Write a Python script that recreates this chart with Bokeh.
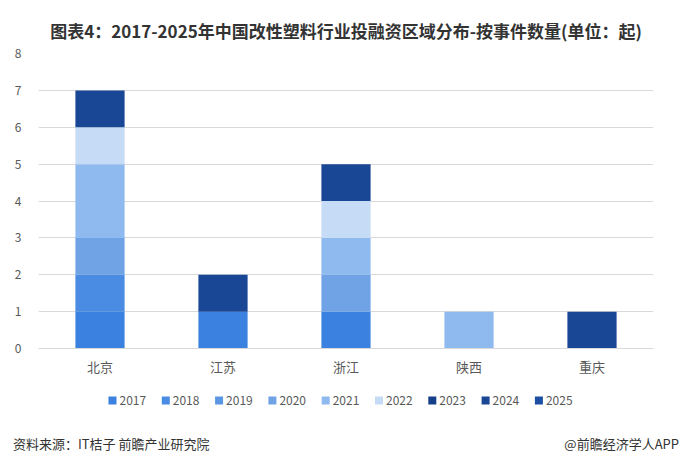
from bokeh.plotting import figure
from bokeh.models import FixedTicker, Range1d, Div, ColumnDataSource
from bokeh.core.properties import value
from bokeh.layouts import column
from bokeh.embed import file_html
from bokeh.resources import INLINE

regions = ["北京", "江苏", "浙江", "陕西", "重庆"]
years = ["2017", "2018", "2019", "2020", "2021", "2022", "2023", "2024", "2025"]
v2017 = [1, 1, 1, 0, 0]
v2018 = [1, 0, 0, 0, 0]
v2019 = [0, 0, 0, 0, 0]
v2020 = [1, 0, 1, 0, 0]
v2021 = [2, 0, 1, 1, 0]
v2022 = [1, 0, 1, 0, 0]
v2023 = [0, 0, 0, 0, 0]
v2024 = [1, 1, 1, 0, 1]
v2025 = [0, 0, 0, 0, 0]
colors = ["#3b82e0", "#4a8be3", "#5b96e6", "#6fa3e6", "#8ebaef", "#c6dbf5",
          "#163f8a", "#1a4795", "#1c4fa3"]
yticks = [0, 1, 2, 3, 4, 5, 6, 7, 8]
source_text = "资料来源：IT桔子 前瞻产业研究院"
brand_text = "@前瞻经济学人APP"

FONT = "Noto Sans CJK SC"

data = dict(region=regions)
for y, v in zip(years, [v2017, v2018, v2019, v2020, v2021, v2022, v2023, v2024, v2025]):
    data[y] = v

p = figure(x_range=regions, y_range=Range1d(0, 8),
           frame_width=615, frame_height=295,
           output_backend="svg", toolbar_location=None,
           min_border_left=38, min_border_right=31, min_border_top=53,
           min_border_bottom=32)

rs = p.vbar_stack(years, x="region", width=0.4, color=colors, source=data,
                  line_color=None)

p.title.text = "图表4：2017-2025年中国改性塑料行业投融资区域分布-按事件数量(单位：起)"
p.title.align = "center"
p.title.text_font = FONT
p.title.text_font_size = "17px"
p.title.text_font_style = "bold"
p.title.text_color = "#333333"
p.title.standoff = 22

p.yaxis.ticker = FixedTicker(ticks=yticks)
p.yaxis.axis_line_color = None
p.yaxis.major_tick_line_color = None
p.yaxis.minor_tick_line_color = None
p.yaxis.major_label_text_font = FONT
p.yaxis.major_label_text_font_size = "12px"
p.yaxis.major_label_text_color = "#595959"
p.yaxis.major_label_standoff = 11

p.xaxis.axis_line_color = "#d9d9d9"
p.xaxis.major_tick_line_color = None
p.xaxis.minor_tick_line_color = None
p.xaxis.major_label_text_font = FONT
p.xaxis.major_label_text_font_size = "13px"
p.xaxis.major_label_text_color = "#595959"
p.xaxis.major_label_standoff = 2

p.xgrid.grid_line_color = None
p.ygrid.grid_line_color = "#d9d9d9"
p.outline_line_color = None
p.x_range.range_padding = 0.0

# legend strip: one unit per legend entry (53.3 px)
p2 = figure(x_range=Range1d(-1.388, 10.15), y_range=Range1d(0, 40),
            frame_width=615, frame_height=40,
            output_backend="svg", toolbar_location=None,
            min_border_left=38, min_border_right=31, min_border_top=0,
            min_border_bottom=0)
p2.axis.visible = False
p2.grid.visible = False
p2.outline_line_color = None

leg = ColumnDataSource(dict(idx=list(range(len(years))), year=years,
                            color=colors, ymid=[20] * len(years)))
p2.rect(x="idx", y="ymid", width=8, height=8, width_units="screen",
        height_units="screen", fill_color="color", line_color=None, source=leg)
p2.text(x="idx", y="ymid", text="year", x_offset=7, text_baseline="middle",
        text_font=value(FONT), text_font_size=value("12px"),
        text_color="#595959", source=leg)

footer = Div(
    text=(f'<div style="display:flex;justify-content:space-between;'
          f'width:674px;padding:10px 0 0 8px;font-family:\'{FONT}\';'
          f'font-size:13px;color:#333333;line-height:18px;">'
          f'<span>{source_text}</span><span>{brand_text}</span></div>'),
    width=684, height=40)

open("out.html", "w").write(file_html(column(p, p2, footer, spacing=0), INLINE))
